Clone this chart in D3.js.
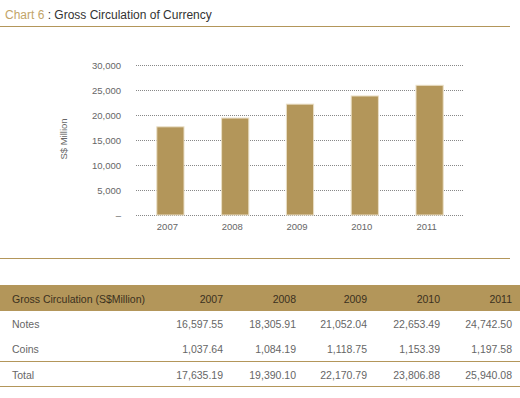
<!DOCTYPE html>
<html>
<head>
<meta charset="utf-8">
<script src="https://cdn.jsdelivr.net/npm/d3@7"></script>
<style>
  body { margin: 0; background: #fff; }
  svg { display: block; font-family: "Liberation Sans", Arial, sans-serif; }
</style>
</head>
<body>
<svg id="chart" width="520" height="398"></svg>
<script>
const years = ["2007", "2008", "2009", "2010", "2011"];
const notes = [16597.55, 18305.91, 21052.04, 22653.49, 24742.50];
const coins = [1037.64, 1084.19, 1118.75, 1153.39, 1197.58];
const totals = [17635.19, 19390.10, 22170.79, 23806.88, 25940.08];
const yTicks = [0, 5000, 10000, 15000, 20000, 25000, 30000];

const gold = "#b3965a";
const textCol = "#666";

const svg = d3.select("#chart");

// title
const title = svg.append("text").attr("x", 5).attr("y", 19).attr("font-size", 12);
title.append("tspan").attr("fill", "#c2a468").text("Chart 6");
title.append("tspan").attr("fill", "#333").text(" : Gross Circulation of Currency");
svg.append("line").attr("x1", 0).attr("x2", 510).attr("y1", 26.5).attr("y2", 26.5)
  .attr("stroke", gold).attr("stroke-width", 1);

// scales
const x = d3.scaleBand().domain(years).range([138, 462]).paddingInner(0.58).paddingOuter(0.29);
const y = d3.scaleLinear().domain([0, 30000]).range([215, 65]);

// gridlines (dotted)
svg.append("g")
  .selectAll("line")
  .data(yTicks)
  .join("line")
  .attr("x1", 136).attr("x2", 463)
  .attr("y1", d => Math.round(y(d)) + 0.5)
  .attr("y2", d => Math.round(y(d)) + 0.5)
  .attr("stroke", "#888")
  .attr("stroke-dasharray", "1,1");

// y axis labels
const yAxis = d3.axisLeft(y).tickValues(yTicks).tickSize(0).tickPadding(0)
  .tickFormat(d => d === 0 ? "\u2013" : d3.format(",")(d));
const yG = svg.append("g").attr("transform", "translate(121,0)").call(yAxis);
yG.select(".domain").remove();
yG.selectAll("text").attr("font-size", 9.5).attr("fill", textCol)
  .attr("font-family", "Liberation Sans, Arial, sans-serif");

// axis title
svg.append("text")
  .attr("transform", "translate(67,139) rotate(-90)")
  .attr("text-anchor", "middle")
  .attr("font-size", 9.5)
  .attr("fill", textCol)
  .text("S$ Million");

// bars
svg.append("g")
  .selectAll("rect")
  .data(years)
  .join("rect")
  .attr("x", d => x(d))
  .attr("width", x.bandwidth())
  .attr("y", (d, i) => y(totals[i]))
  .attr("height", (d, i) => y(0) - y(totals[i]))
  .attr("fill", gold)
  .attr("stroke", "#eadfc6")
  .attr("stroke-width", 1);

// x labels (sit a little left of the bar centre in the original)
const xAxis = d3.axisBottom(x).tickSize(0).tickPadding(0);
const xG = svg.append("g").attr("transform", "translate(-3,223)").call(xAxis);
xG.select(".domain").remove();
xG.selectAll("text").attr("font-size", 9.5).attr("fill", textCol)
  .attr("font-family", "Liberation Sans, Arial, sans-serif");

// separator under chart
svg.append("line").attr("x1", 0).attr("x2", 510).attr("y1", 258.5).attr("y2", 258.5)
  .attr("stroke", gold).attr("stroke-width", 1);

// table
const colRight = [223, 296, 367, 440, 512];
const rows = [
  { label: "Notes", values: notes, y: 328 },
  { label: "Coins", values: coins, y: 353 },
  { label: "Total", values: totals, y: 379 }
];
const numFmt = d3.format(",.2f");

svg.append("rect").attr("x", 0).attr("y", 285).attr("width", 520).attr("height", 26).attr("fill", gold);
svg.append("text").attr("x", 12).attr("y", 303).attr("font-size", 10.5).attr("fill", "#3a3020")
  .text("Gross Circulation (S$Million)");
svg.append("g").selectAll("text").data(years).join("text")
  .attr("x", (d, i) => colRight[i]).attr("y", 303)
  .attr("text-anchor", "end").attr("font-size", 10.5).attr("fill", "#3a3020")
  .text(d => d);

rows.forEach(r => {
  svg.append("text").attr("x", 12).attr("y", r.y).attr("font-size", 10.5).attr("fill", textCol).text(r.label);
  svg.append("g").selectAll("text").data(r.values).join("text")
    .attr("x", (d, i) => colRight[i]).attr("y", r.y)
    .attr("text-anchor", "end").attr("font-size", 10.5).attr("fill", textCol)
    .text(d => numFmt(d));
});

[361.5, 386.5].forEach(ly => {
  svg.append("line").attr("x1", 0).attr("x2", 520).attr("y1", ly).attr("y2", ly)
    .attr("stroke", gold).attr("stroke-width", 1);
});
</script>
</body>
</html>
